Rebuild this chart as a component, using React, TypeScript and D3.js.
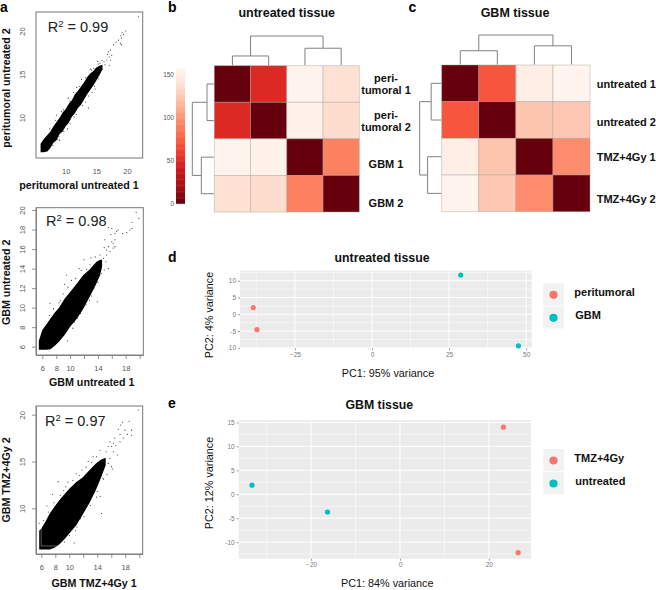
import { useEffect, useRef } from 'react';
import * as d3 from 'd3';

const FONT = '"Liberation Sans", Arial, sans-serif';

// panel a: dense part of each cloud, read as lower/upper edge per x
const a1CloudX = [5.9, 6.4, 7, 7.5, 8, 8.5, 9, 9.5, 10, 10.5, 11, 11.5, 12, 12.5, 13, 13.5, 14, 14.5, 15, 15.5, 16];
const a1CloudLow = [6.0, 6.0, 6.1, 6.5, 7.1, 7.4, 8.1, 8.4, 9.0, 9.4, 10.1, 10.5, 11.1, 11.5, 12.1, 12.7, 13.2, 13.7, 14.3, 14.9, 15.6];
const a1CloudHigh = [7.0, 7.5, 8.0, 8.4, 9.0, 9.5, 10.0, 10.6, 11.0, 11.6, 12.0, 12.7, 13.1, 13.6, 14.1, 14.7, 15.1, 15.4, 15.8, 16.0, 16.1];
const a1Points = [
  [21.85, 21.65], [19.8, 20], [19.2, 19.8], [19.4, 19.6], [19, 19.45], [19.1, 19.2], [18.6, 18.95],
  [18.2, 18.7], [18.9, 18.55], [19.1, 18.4], [17.8, 18.4], [17.3, 17.8], [16.95, 17.6], [17.5, 17.2],
  [17.1, 17], [16.7, 16.65], [17.3, 16.65], [16.25, 16.45], [17.1, 16.05], [16.4, 16.1], [16.8, 17.3],
  [13.7, 11.1], [14.8, 13.3], [10.4, 12.25], [8.5, 10.3], [9, 7.4], [11.35, 10.1], [15.6, 16.3],
  [15.2, 16.5], [16, 15.6], [15.9, 16.6], [14.6, 15.7], [14, 15.6], [12.6, 14.4], [11.8, 13.5],
  [9.6, 10.9], [8.9, 7.8], [10.3, 8.7], [13.2, 11.8], [14.3, 12.9], [7.4, 8.7], [8.3, 9.7], [9.3, 10.7],
  [10.7, 11.9], [11.3, 12.9], [12.2, 13.6], [13.2, 14.6], [14.2, 15.5], [15.3, 16.2], [7.9, 6.8],
  [8.7, 7.5], [9.7, 8.4], [10.7, 9.3], [11.7, 10.4], [12.7, 11.4], [13.7, 12.5], [14.7, 13.6], [15.3, 14.5],
];

const a2CloudX = [5.5, 6, 6.6, 7.17, 7.8, 8.4, 9.2, 10, 11, 11.9, 12.8, 13.4, 13.8, 14.3, 14.6];
const a2CloudLow = [5.7, 5.7, 5.7, 5.75, 6.1, 6.5, 7.2, 8.05, 8.9, 9.9, 11.1, 11.9, 12.5, 13.3, 14.2];
const a2CloudHigh = [6.6, 7.7, 8.3, 8.9, 9.5, 10, 10.9, 11.6, 12.5, 13.35, 13.9, 14.4, 14.7, 14.9, 14.9];
const a2Points = [
  [19.5, 19.77], [19.9, 19.15], [18.9, 18.75], [18.9, 18.1], [18.6, 17.95], [18.15, 17.7], [17.55, 17.6],
  [16.9, 17.95], [16.45, 17.6], [16, 18.1], [15.5, 18.2], [16.7, 17.8], [15.85, 17.5], [16.45, 16.95],
  [16, 16.75], [16.2, 16.6], [16.45, 16.25], [16.2, 16.1], [15, 16.95], [15.5, 16.25], [14.9, 16.15],
  [15.25, 15.9], [15.75, 15.75], [14.3, 15.4], [14.8, 15.05], [15.25, 15.4], [15.15, 14.7], [14.55, 14.4],
  [15.5, 14], [14.9, 13.85], [14.5, 13.5], [12.85, 14.4], [13.6, 15.2], [13.9, 10.6], [9.6, 6.6],
  [9.5, 13.35], [7.1, 10.45], [8.4, 10.5], [9.2, 12.4], [10.2, 12.8], [11.3, 14], [12, 14.9],
  [12.4, 13.9], [13, 15.1], [8.1, 9.3], [9, 11.4], [10.4, 7.9], [11, 8.9], [12.8, 10.7], [13.4, 12],
  [7, 9.2], [7.6, 9.9], [8.6, 10.7], [9.7, 12.1], [10.8, 13], [11.6, 13.8], [8.8, 7], [9.6, 7.7],
  [10.6, 8.5], [11.5, 9.4], [12.3, 10.3], [13.1, 11.2], [14, 12.6],
];

const a3CloudX = [5.7, 6, 6.6, 7.2, 7.9, 8.6, 9.3, 10, 11, 11.9, 12.9, 13.8, 14.5, 15.2];
const a3CloudLow = [5.6, 5.6, 5.6, 5.6, 5.8, 6.15, 6.7, 7.3, 8.2, 9.3, 10.6, 11.95, 13.2, 14.6];
const a3CloudHigh = [7.6, 7.85, 8.6, 9.45, 10.2, 10.9, 11.5, 12.1, 12.8, 13.3, 14.1, 14.8, 15.2, 15.4];
const a3Gap = [[5.98, 8], [5.98, 5.98], [8.3, 5.98]];
const a3Points = [
  [19.85, 20.5], [18.55, 19.3], [17.6, 19.2], [17.35, 18.9], [17, 18.45], [18.9, 18.35], [17.95, 18.35],
  [18.3, 17.9], [17.25, 17.9], [18.9, 17.8], [17.7, 17.5], [17.25, 17.1], [16.5, 17.5], [16.3, 16.95],
  [15.8, 17.1], [16.65, 16.7], [16.05, 16.6], [15.55, 16.6], [15.25, 16.05], [16.85, 15.7], [16.3, 16.05],
  [14.4, 16.2], [13.9, 15.5], [13.4, 15.5], [15.8, 15.35], [15.1, 15.15], [16.05, 14.45], [15.55, 14.8],
  [12.7, 15], [8.4, 12.85], [7.6, 11.5], [6.8, 10.25], [14.6, 9.45], [10.7, 6.3], [5.7, 8.4],
  [14.4, 11.25], [13.9, 11.2], [16.2, 14.2], [13.2, 11.15], [12.6, 10.4], [11.6, 8.9], [10.9, 7.6],
  [9.8, 12.8], [9.2, 11.9], [11, 13.7], [11.8, 14.1], [13.2, 14.9], [15.4, 13.6], [14.9, 13.1], [13.7, 12.2],
  [6.3, 8.7], [7, 9.6], [7.8, 10.6], [8.7, 11.4], [9.5, 12.3], [10.5, 13], [11.4, 13.5], [12.4, 14.4],
  [9.3, 6.4], [10, 7.1], [11.1, 8], [12.1, 9.1], [13, 10.3], [14, 11.8], [14.8, 13.2],
];

// panel b, c: sample-to-sample distances
const bLabels = ['peri-|tumoral 1', 'peri-|tumoral 2', 'GBM 1', 'GBM 2'];
const bMatrix = [
  [0, 49, 155, 138],
  [49, 0, 154, 136],
  [155, 154, 0, 90],
  [138, 136, 90, 0],
];
const bMerges = [49, 90, 155];
const cLabels = ['untreated 1', 'untreated 2', 'TMZ+4Gy 1', 'TMZ+4Gy 2'];
const cMatrix = [
  [0, 70, 150, 156],
  [70, 0, 123, 124],
  [150, 123, 0, 95],
  [156, 124, 95, 0],
];
const cMerges = [70, 95, 150];
const legendTicks = [0, 50, 100, 150];

// panel d, e: PCA
const dRed = [[-38.5, 2], [-37.3, -4.6]];
const dTeal = [[28.8, 11.7], [47.5, -9.4]];
const dXTicks = [-25, 0, 25, 50];
const dXMinor = [-37.5, -12.5, 12.5, 37.5];
const dYTicks = [-10, -5, 0, 5, 10];
const dYLabels = ['10', '-5', '0', '5', '10'];
const dYMinor = [-7.5, -2.5, 2.5, 7.5, 12.5];
const eRed = [[23.3, 14], [26.6, -12.2]];
const eTeal = [[-33.3, 1.9], [-16.3, -3.7]];
const eXTicks = [-20, 0, 20];
const eXMinor = [-30, -10, 10];
const eYTicks = [-10, -5, 0, 5, 10, 15];
const eYMinor = [-12.5, -7.5, -2.5, 2.5, 7.5, 12.5];

const RED = '#f8766d';
const TEAL = '#00bfc4';

const reds = d3.piecewise(d3.interpolateRgb, [...d3.schemeReds[9]].reverse());
const heatColor = d3.scaleSequential(reds).domain([0, 157]);

function label(g: any, text: string, x: number, y: number, size: number, weight = 'bold', rotate = false, fill = '#111') {
  g.append('text')
    .attr('transform', `translate(${x},${y})${rotate ? ' rotate(-90)' : ''}`)
    .attr('text-anchor', 'middle')
    .style('font-family', FONT)
    .style('font-size', `${size}px`)
    .style('font-weight', weight)
    .style('fill', fill)
    .text(text);
}

function drawScatter(svg: any, o: any) {
  const x = d3.scaleLinear().domain(o.xDomain).range([o.left, o.right]);
  const y = d3.scaleLinear().domain(o.yDomain).range([o.bottom, o.top]);
  const g = svg.append('g');

  const area = d3
    .area<number>()
    .x(d => x(d))
    .y0((d, i) => y(o.low[i]))
    .y1((d, i) => y(o.high[i]));
  g.append('path').attr('d', area(o.cloudX)).attr('fill', '#000');

  if (o.gap) {
    const line = d3.line<number[]>().x(d => x(d[0])).y(d => y(d[1]));
    g.append('path').attr('d', line(o.gap)).attr('fill', 'none').attr('stroke', '#fff').attr('stroke-width', 0.6).attr('stroke-opacity', 0.6);
  }

  g.selectAll('circle.pt')
    .data(o.points)
    .enter()
    .append('circle')
    .attr('cx', (d: number[]) => x(d[0]))
    .attr('cy', (d: number[]) => y(d[1]))
    .attr('r', 0.55)
    .attr('fill', '#222');

  g.append('rect')
    .attr('x', o.left)
    .attr('y', o.top)
    .attr('width', o.right - o.left)
    .attr('height', o.bottom - o.top)
    .attr('fill', 'none')
    .attr('stroke', '#777')
    .attr('stroke-width', 1);

  const xAxis = d3
    .axisBottom(x)
    .tickValues(o.xTicks)
    .tickSize(o.tickSize)
    .tickSizeOuter(0)
    .tickPadding(o.tickSize ? 7 : 11)
    .tickFormat((d: any) => (o.xShown.includes(d) ? String(d) : ''));
  const yAxis = d3
    .axisLeft(y)
    .tickValues(o.yTicks)
    .tickSize(o.tickSize)
    .tickSizeOuter(0)
    .tickPadding(3)
    .tickFormat((d: any) => String(d));

  const xg = g.append('g').attr('transform', `translate(0,${o.bottom})`).call(xAxis);
  const yg = g.append('g').attr('transform', `translate(${o.left},0)`).call(yAxis);
  [xg, yg].forEach(a => {
    a.select('.domain').attr('stroke', '#777').attr('stroke-width', o.tickSize ? 0.8 : 0);
    a.selectAll('line').attr('stroke', '#777').attr('stroke-width', 0.8);
    a.selectAll('text').style('font-family', FONT).style('font-size', '7.5px').style('fill', '#555');
  });
  yg.selectAll('text')
    .attr('text-anchor', 'middle')
    .attr('dy', 0)
    .attr('x', 0)
    .attr('transform', 'translate(-10.8,0) rotate(-90)');

  const r2 = g
    .append('text')
    .attr('x', o.r2x)
    .attr('y', o.r2y)
    .style('font-family', FONT)
    .style('font-size', '14.5px')
    .style('fill', '#222');
  r2.append('tspan').text('R');
  r2.append('tspan').attr('dy', -5).style('font-size', '9.5px').text('2');
  r2.append('tspan').attr('dy', 5).text(` = ${o.r2}`);

  label(g, o.xLabel, o.xLabelX, o.xLabelY, 10.7);
  label(g, o.yLabel, o.yLabelX, o.yLabelY, 10.7, 'bold', true);
}

function drawHeatmap(svg: any, o: any) {
  const ids = d3.range(4);
  const x = d3.scaleBand<number>().domain(ids).range([o.left, o.right]);
  const y = d3.scaleBand<number>().domain(ids).range([o.top, o.bottom]);
  const g = svg.append('g');

  ids.forEach(r => {
    ids.forEach(c => {
      g.append('rect')
        .attr('x', x(c))
        .attr('y', y(r))
        .attr('width', x.bandwidth())
        .attr('height', y.bandwidth())
        .attr('fill', heatColor(o.matrix[r][c]))
        .attr('stroke', '#a8a4a0')
        .attr('stroke-opacity', 0.55)
        .attr('stroke-width', 0.8);
    });
  });

  // dendrograms, merge heights through their own scale
  const [m1, m2, root] = o.merges;
  const topH = d3.scaleLinear().domain([0, root]).range([o.top - 0.5, o.rootTop]);
  const leftH = d3.scaleLinear().domain([0, root]).range([o.left - 0.5, o.rootLeft]);
  const cx = (i: number) => x(i)! + x.bandwidth() / 2;
  const cy = (i: number) => y(i)! + y.bandwidth() / 2;
  const topPath = d3.path();
  const leftPath = d3.path();
  const cap = (p: any, a: number, b: number, h: number, base: number, horizontal: boolean) => {
    if (horizontal) {
      p.moveTo(a, base);
      p.lineTo(a, h);
      p.lineTo(b, h);
      p.lineTo(b, base);
    } else {
      p.moveTo(base, a);
      p.lineTo(h, a);
      p.lineTo(h, b);
      p.lineTo(base, b);
    }
  };
  cap(topPath, cx(0), cx(1), topH(m1), topH(0), true);
  cap(topPath, cx(2), cx(3), topH(m2), topH(0), true);
  topPath.moveTo((cx(0) + cx(1)) / 2, topH(m1));
  topPath.lineTo((cx(0) + cx(1)) / 2, topH(root));
  topPath.lineTo((cx(2) + cx(3)) / 2, topH(root));
  topPath.lineTo((cx(2) + cx(3)) / 2, topH(m2));
  cap(leftPath, cy(0), cy(1), leftH(m1), leftH(0), false);
  cap(leftPath, cy(2), cy(3), leftH(m2), leftH(0), false);
  leftPath.moveTo(leftH(m1), (cy(0) + cy(1)) / 2);
  leftPath.lineTo(leftH(root), (cy(0) + cy(1)) / 2);
  leftPath.lineTo(leftH(root), (cy(2) + cy(3)) / 2);
  leftPath.lineTo(leftH(m2), (cy(2) + cy(3)) / 2);
  [topPath, leftPath].forEach(p => {
    g.append('path').attr('d', p.toString()).attr('fill', 'none').attr('stroke', '#808080').attr('stroke-width', 1);
  });

  label(g, o.title, o.titleX, 17.3, 12.5);
  o.labels.forEach((text: string, i: number) => {
    const lines = text.split('|');
    lines.forEach((line, j) => {
      const base = cy(i) + o.labelOffset[i] + (j - lines.length + 1) * 12.4;
      g.append('text')
        .attr('x', o.labelX)
        .attr('y', base)
        .attr('text-anchor', o.labelAnchor)
        .style('font-family', FONT)
        .style('font-size', '11px')
        .style('font-weight', 'bold')
        .style('fill', '#111')
        .text(line);
    });
  });
}

function drawColorBar(svg: any) {
  const y = d3.scaleLinear().domain([0, 157]).range([203.3, 68.3]);
  const g = svg.append('g');
  g.selectAll('rect')
    .data(d3.range(0, 157, 1))
    .enter()
    .append('rect')
    .attr('x', 176)
    .attr('y', (d: number) => y(d + 1))
    .attr('width', 9)
    .attr('height', (d: number) => y(d) - y(d + 1) + 0.5)
    .attr('fill', (d: number) => heatColor(d));
  const axis = d3.axisLeft(y).tickValues(legendTicks).tickSize(0).tickPadding(1);
  const a = g.append('g').attr('transform', 'translate(175,0)').call(axis);
  a.select('.domain').remove();
  a.selectAll('text').style('font-family', FONT).style('font-size', '6.5px').style('fill', '#555');
}

function drawPca(svg: any, o: any) {
  const x = d3.scaleLinear().domain(o.xDomain).range([o.left, o.right]);
  const y = d3.scaleLinear().domain(o.yDomain).range([o.bottom, o.top]);
  const g = svg.append('g');
  g.append('rect')
    .attr('x', o.left)
    .attr('y', o.top)
    .attr('width', o.right - o.left)
    .attr('height', o.bottom - o.top)
    .attr('fill', '#ebebeb');

  const grid = (xs: number[], ys: number[], w: number) => {
    xs.forEach(v => {
      g.append('line').attr('x1', x(v)).attr('x2', x(v)).attr('y1', o.top).attr('y2', o.bottom)
        .attr('stroke', '#fff').attr('stroke-width', w);
    });
    ys.forEach(v => {
      g.append('line').attr('y1', y(v)).attr('y2', y(v)).attr('x1', o.left).attr('x2', o.right)
        .attr('stroke', '#fff').attr('stroke-width', w);
    });
  };
  grid(o.xMinor, o.yMinor, 0.5);
  grid(o.xTicks, o.yTicks, 1);

  const points = (rows: number[][], color: string) => {
    g.append('g')
      .selectAll('circle')
      .data(rows)
      .enter()
      .append('circle')
      .attr('cx', (d: number[]) => x(d[0]))
      .attr('cy', (d: number[]) => y(d[1]))
      .attr('r', 2.6)
      .attr('fill', color);
  };
  points(o.red, RED);
  points(o.teal, TEAL);

  const xAxis = d3.axisBottom(x).tickValues(o.xTicks).tickSize(2).tickSizeOuter(0).tickPadding(2);
  const yAxis = d3
    .axisLeft(y)
    .tickValues(o.yTicks)
    .tickSize(2)
    .tickSizeOuter(0)
    .tickPadding(2)
    .tickFormat((d: any, i: number) => (o.yLabels ? o.yLabels[i] : String(d)));
  const xg = g.append('g').attr('transform', `translate(0,${o.bottom})`).call(xAxis);
  const yg = g.append('g').attr('transform', `translate(${o.left},0)`).call(yAxis);
  [xg, yg].forEach(a => {
    a.select('.domain').remove();
    a.selectAll('line').attr('stroke', '#555').attr('stroke-width', 0.6);
    a.selectAll('text').style('font-family', FONT).style('font-size', '6.5px').style('fill', '#777');
  });

  label(g, o.title, o.titleX, o.titleY, 12.3);
  label(g, o.xLabel, o.xLabelX, o.xLabelY, 10.8, 'normal');
  label(g, o.yLabel, 213, o.yLabelY, 10.8, 'normal', true);

  // legend keys
  const keyY = d3.scaleBand<number>().domain([0, 1]).range([o.keyTop, o.keyTop + 46]);
  [0, 1].forEach(i => {
    g.append('rect').attr('x', 543.3).attr('y', keyY(i)).attr('width', 20.7).attr('height', keyY.bandwidth() - 0.7).attr('fill', '#f2f2f2');
    g.append('circle').attr('cx', 553.5).attr('cy', keyY(i)! + keyY.bandwidth() / 2).attr('r', 4.1).attr('fill', i ? TEAL : RED);
    g.append('text')
      .attr('x', i ? 575.3 : 574.3)
      .attr('y', keyY(i)! + keyY.bandwidth() / 2 + 1.5)
      .style('font-family', FONT)
      .style('font-size', '11px')
      .style('font-weight', 'bold')
      .style('fill', '#111')
      .text(o.keys[i]);
  });
}

export default function App() {
  const ref = useRef<SVGSVGElement>(null);

  useEffect(() => {
    const svg = d3.select(ref.current);
    svg.selectAll('*').remove();
    svg.append('rect').attr('width', 656).attr('height', 590).attr('fill', '#fff');

    [['a', 0, 12], ['b', 168, 12], ['c', 408.5, 12], ['d', 168, 261.5], ['e', 168, 407.5]].forEach(([t, x, y]) => {
      svg.append('text').attr('x', x).attr('y', y)
        .style('font-family', FONT).style('font-size', '14px').style('font-weight', 'bold').style('fill', '#000')
        .text(t as string);
    });

    drawScatter(svg, {
      cloudX: a1CloudX, low: a1CloudLow, high: a1CloudHigh, points: a1Points,
      xDomain: [5.15, 22.56], yDomain: [5.34, 22.2], left: 36, right: 142.7, top: 12, bottom: 158,
      xTicks: [10, 15, 20], xShown: [10, 15, 20], yTicks: [10, 15, 20], tickSize: 0,
      r2: '0.99', r2x: 47.7, r2y: 31.7,
      xLabel: 'peritumoral untreated 1', xLabelX: 79, xLabelY: 189,
      yLabel: 'peritumoral untreated 2', yLabelX: 10, yLabelY: 88,
    });
    drawScatter(svg, {
      cloudX: a2CloudX, low: a2CloudLow, high: a2CloudHigh, points: a2Points,
      xDomain: [5.09, 20.53], yDomain: [5.15, 20.24], left: 36, right: 143.3, top: 207.7, bottom: 355,
      xTicks: [6, 8, 10, 12, 14, 16, 18, 20], xShown: [6, 8, 10, 14, 18], yTicks: [6, 8, 10, 12, 14, 16, 18, 20], tickSize: 4,
      r2: '0.98', r2x: 46, r2y: 225.7,
      xLabel: 'GBM untreated 1', xLabelX: 91.7, xLabelY: 385.7,
      yLabel: 'GBM untreated 2', yLabelX: 10, yLabelY: 282.3,
    });
    drawScatter(svg, {
      cloudX: a3CloudX, low: a3CloudLow, high: a3CloudHigh, points: a3Points, gap: a3Gap,
      xDomain: [5.24, 20.49], yDomain: [5.12, 20.93], left: 36, right: 142.7, top: 406, bottom: 554,
      xTicks: [6, 8, 10, 12, 14, 16, 18, 20], xShown: [6, 8, 10, 14, 18], yTicks: [10, 15, 20], tickSize: 4,
      r2: '0.97', r2x: 45, r2y: 426,
      xLabel: 'GBM TMZ+4Gy 1', xLabelX: 94, xLabelY: 587,
      yLabel: 'GBM TMZ+4Gy 2', yLabelX: 10, yLabelY: 480,
    });

    drawColorBar(svg);
    drawHeatmap(svg, {
      matrix: bMatrix, merges: bMerges, labels: bLabels, left: 214.3, right: 359.3, top: 65.7, bottom: 212,
      rootTop: 36, rootLeft: 192.3, title: 'untreated tissue', titleX: 286.7,
      labelX: 386, labelAnchor: 'middle', labelOffset: [10.5, 10.5, 10.5, 13],
    });
    drawHeatmap(svg, {
      matrix: cMatrix, merges: cMerges, labels: cLabels, left: 441.7, right: 590, top: 65, bottom: 211.7,
      rootTop: 35, rootLeft: 419.7, title: 'GBM tissue', titleX: 515,
      labelX: 596.7, labelAnchor: 'start', labelOffset: [4.5, 6, 4.5, 10],
    });

    drawPca(svg, {
      red: dRed, teal: dTeal, xDomain: [-42.8, 51.8], yDomain: [-10.15, 13],
      left: 240, right: 531.7, top: 270.7, bottom: 348.3,
      xTicks: dXTicks, xMinor: dXMinor, yTicks: dYTicks, yMinor: dYMinor, yLabels: dYLabels,
      title: 'untreated tissue', titleX: 382, titleY: 261.7,
      xLabel: 'PC1: 95% variance', xLabelX: 388, xLabelY: 376.7, yLabel: 'PC2: 4% variance', yLabelY: 315,
      keyTop: 283.3, keys: ['peritumoral', 'GBM'],
    });
    drawPca(svg, {
      red: eRed, teal: eTeal, xDomain: [-36.3, 29.5], yDomain: [-13.45, 15.5],
      left: 238.7, right: 531, top: 420, bottom: 558.7,
      xTicks: eXTicks, xMinor: eXMinor, yTicks: eYTicks, yMinor: eYMinor,
      title: 'GBM tissue', titleX: 379.3, titleY: 409,
      xLabel: 'PC1: 84% variance', xLabelX: 387.3, xLabelY: 587, yLabel: 'PC2: 12% variance', yLabelY: 483,
      keyTop: 449, keys: ['TMZ+4Gy', 'untreated'],
    });
  }, []);

  return <svg ref={ref} width={656} height={590} style={{ position: 'absolute', left: 0, top: 0 }} />;
}
